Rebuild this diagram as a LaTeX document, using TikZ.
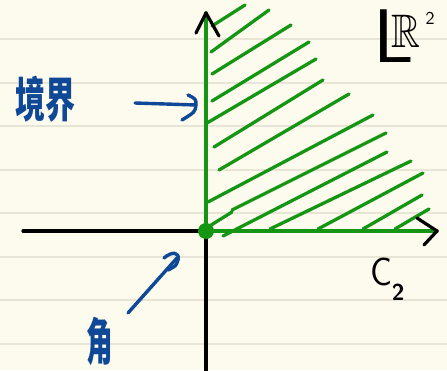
\documentclass[tikz,border=0pt]{standalone}
\usepackage{fontspec}
\usepackage{amssymb}
\newfontfamily\cjk{Noto Sans CJK SC}
\definecolor{paper}{RGB}{253,251,238}
\definecolor{ruled}{RGB}{232,228,214}
\definecolor{grn}{RGB}{20,150,20}
\definecolor{ink}{RGB}{15,72,150}
\begin{document}
\begin{tikzpicture}[x=1pt,y=-1pt,line cap=round,line join=round,
  hatch/.style={grn,line width=3.3pt},
  axisblack/.style={black,line width=3.2pt},
  axisgreen/.style={grn,line width=3.8pt},
  inkline/.style={ink,line width=3.4pt},
  tip/.style={black,line width=3.2pt}]
\fill[paper] (0,0) rectangle (447,370);
\useasboundingbox (0,0) rectangle (447,370);
\foreach \yy in {39,83,126,170,213,257,300,344}
  \draw[ruled,line width=1.6pt] (0,\yy) -- (447,\yy);
% hatching
\foreach \ax/\ay/\bx/\by in {
  212/26/245/5, 211/52/269/10, 212/74/291/25, 212/101/309/42,
  207/123/316/59, 214/147/323/80, 219/170/349/94, 208/202/373/115,
  232/210/386/133, 208/227/232/212, 223/236/387/152, 270/229/411/161,
  318/229/423/173, 363/229/422/195, 395/229/429/209}
  \draw[hatch] (\ax,\ay) -- (\bx,\by);
% axes
\coordinate (O) at (206,231);
\coordinate (top) at (206,13);
\coordinate (bot) at (206,372);
\coordinate (left) at (23,231);
\coordinate (right) at (437,231);
\draw[axisblack] (left) -- (O);
\draw[axisblack] (O) -- (bot);
\draw[axisgreen] (O) -- (top);
\draw[axisgreen] (O) -- (right);
\draw[tip] (196,33) -- (top) -- (219,36);
\draw[tip] (417,218) -- (right) -- (424,245);
\fill[grn] (O) circle (8);
% labels
\node[ink,inner sep=0pt,font=\cjk\bfseries\fontsize{30}{30}\selectfont] (jj) at (46,99)
  {\scalebox{1}[1.6]{境界}};
\coordinate (ja) at (135,103);
\coordinate (jb) at (196,105);
\draw[inkline] (ja) -- (jb);
\draw[inkline] (188,95) .. controls (196,99) .. (jb) .. controls (195,112) .. (182,120);
\node[ink,inner sep=0pt,font=\cjk\bfseries\fontsize{28}{28}\selectfont] (jiao) at (100,341)
  {\scalebox{0.95}[1.8]{角}};
\coordinate (ka) at (128,313);
\coordinate (kb) at (177,258);
\draw[inkline] (ka) -- (kb);
\draw[inkline] (164,258) .. controls (172,251) and (180,252) .. (178,260) .. controls (176,266) .. (168,270);
\node[inner sep=0pt,anchor=base west] (lr) at (373,62)
  {\scalebox{7.5}[7.6]{\sffamily L}\hspace{-22pt}\raisebox{15pt}{\scalebox{4}[4.7]{$\mathbb{R}$}}\hspace{5pt}\raisebox{38pt}{\scalebox{1.8}{\sffamily 2}}};
\node[inner sep=0pt,anchor=base west] (c2) at (370,285)
  {\scalebox{3.4}[3.9]{\sffamily C}\raisebox{-15pt}{\scalebox{2.3}{\sffamily\bfseries 2}}};
\end{tikzpicture}
\end{document}
